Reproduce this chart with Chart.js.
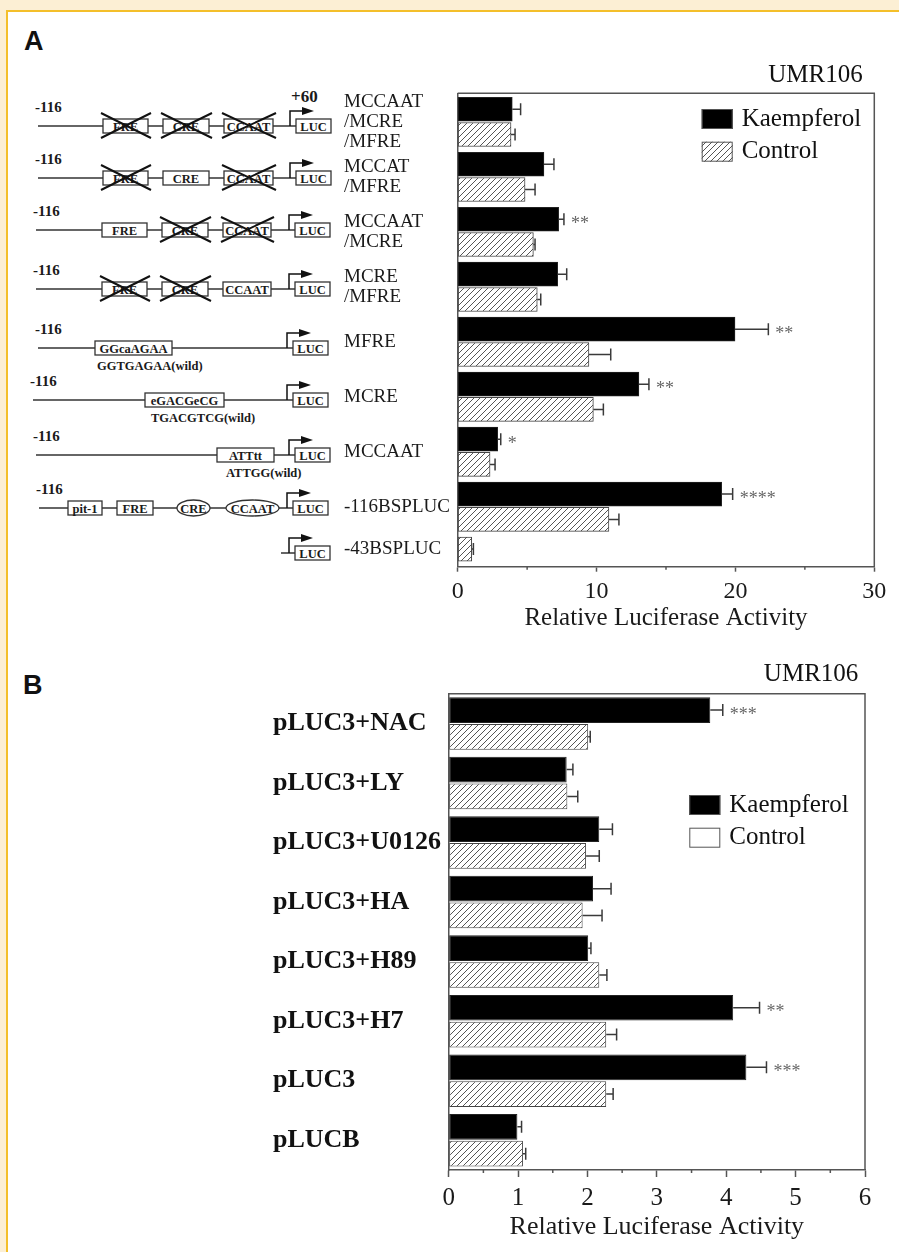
<!DOCTYPE html>
<html>
<head>
<meta charset="utf-8">
<title>Kaempferol luciferase activity</title>
<script src="https://cdn.jsdelivr.net/npm/chart.js@4.4.1/dist/chart.umd.min.js"></script>
<style>
  body { margin: 0; background: #fcefd4; }
  #page { position: relative; width: 899px; height: 1252px; overflow: hidden; }
  #sheet { position: absolute; left: 6px; top: 10px; right: 0; bottom: 0; background: #fff;
           border-top: 2px solid #f4bf2a; border-left: 2px solid #f4bf2a; }
  .letter { position: absolute; font: bold 27px "Liberation Sans", Arial, sans-serif; line-height: 1; color: #111; }
  canvas { position: absolute; }
  #diagram { position: absolute; left: 0; top: 0; }
  #diagram text { font-family: "Liberation Serif", "Times New Roman", serif; font-weight: bold; fill: #1a1a1a; }
  #diagram .pos { font-size: 15px; }
  #diagram .el { font-size: 12.5px; text-anchor: middle; }
  #diagram .wild { font-size: 12.5px; }
</style>
</head>
<body>
<div id="page">
  <div id="sheet"></div>
  <div class="letter" style="left:24px; top:28px;">A</div>
  <div class="letter" style="left:23px; top:672px;">B</div>
  <svg id="diagram" width="899" height="650"></svg>
  <canvas id="chartA" width="559" height="590" style="left:340px; top:58px;"></canvas>
  <canvas id="chartB" width="634" height="602" style="left:265px; top:650px;"></canvas>
</div>
<script>
// ---- panel A data ----
const labelsA = [["MCCAAT", "/MCRE", "/MFRE"], ["MCCAT", "/MFRE"], ["MCCAAT", "/MCRE"], ["MCRE", "/MFRE"],
  "MFRE", "MCRE", "MCCAAT", "-116BSPLUC", "-43BSPLUC"];
const kaempA = [3.93, 6.21, 7.27, 7.20, 19.97, 13.05, 2.88, 19.01, null];
const kaempErrA = [0.60, 0.72, 0.38, 0.65, 2.40, 0.72, 0.22, 0.79, null];
const controlA = [3.84, 4.85, 5.45, 5.73, 9.45, 9.77, 2.33, 10.89, 1.01];
const controlErrA = [0.29, 0.72, 0.12, 0.25, 1.57, 0.72, 0.36, 0.72, 0.12];
const starsA = ["", "", "**", "", "**", "**", "*", "****", ""];

// ---- panel B data ----
const labelsB = ["pLUC3+NAC", "pLUC3+LY", "pLUC3+U0126", "pLUC3+HA", "pLUC3+H89", "pLUC3+H7", "pLUC3", "pLUCB"];
const kaempB = [3.77, 1.70, 2.17, 2.08, 2.01, 4.10, 4.29, 0.99];
const kaempErrB = [0.18, 0.09, 0.19, 0.26, 0.04, 0.38, 0.29, 0.06];
const controlB = [2.01, 1.71, 1.98, 1.93, 2.17, 2.27, 2.27, 1.07];
const controlErrB = [0.03, 0.15, 0.19, 0.28, 0.11, 0.15, 0.10, 0.04];
const starsB = ["***", "", "", "", "", "**", "***", ""];

const serif = "'Liberation Serif', 'Times New Roman', serif";

// promoter constructs drawn next to panel A
const constructs = [
  { y: 126, from: 38, luc: 296, plus60: true, parts: [[103, 148, "FRE", 1], [163, 209, "CRE", 1], [224, 273, "CCAAT", 1]] },
  { y: 178, from: 38, luc: 296, parts: [[103, 148, "FRE", 1], [163, 209, "CRE", 0], [224, 273, "CCAAT", 1]] },
  { y: 230, from: 36, luc: 295, parts: [[102, 147, "FRE", 0], [162, 208, "CRE", 1], [223, 271, "CCAAT", 1]] },
  { y: 289, from: 36, luc: 295, parts: [[102, 147, "FRE", 1], [162, 208, "CRE", 1], [223, 271, "CCAAT", 0]] },
  { y: 348, from: 38, luc: 293, parts: [[95, 172, "GGcaAGAA", 0]], wild: [97, "GGTGAGAA(wild)"] },
  { y: 400, from: 33, luc: 293, parts: [[145, 224, "eGACGeCG", 0]], wild: [151, "TGACGTCG(wild)"] },
  { y: 455, from: 36, luc: 295, parts: [[217, 274, "ATTtt", 0]], wild: [226, "ATTGG(wild)"] },
  { y: 508, from: 39, luc: 293, parts: [[68, 102, "pit-1", 0], [117, 153, "FRE", 0], [177, 210, "CRE", 0, 1], [226, 279, "CCAAT", 0, 1]] },
  { y: 553, from: 281, luc: 295, short: true, parts: [] }
];

const dia = document.getElementById("diagram");
function add(tag, attrs, text) {
  const e = document.createElementNS("http://www.w3.org/2000/svg", tag);
  for (const k in attrs) e.setAttribute(k, attrs[k]);
  if (text) e.textContent = text;
  dia.appendChild(e);
  return e;
}

constructs.forEach((r) => {
  const y = r.y;
  add("line", { x1: r.from, y1: y, x2: r.luc, y2: y, stroke: "#333", "stroke-width": 1.5 });
  if (!r.short) add("text", { x: r.from - 3, y: y - 14, class: "pos" }, "-116");
  r.parts.forEach(([a, b, name, crossed, oval]) => {
    if (oval) {
      add("ellipse", { cx: (a + b) / 2, cy: y, rx: (b - a) / 2, ry: 8, fill: "#fff", stroke: "#333", "stroke-width": 1.3 });
    } else {
      add("rect", { x: a, y: y - 7, width: b - a, height: 14, fill: "#fff", stroke: "#333", "stroke-width": 1.3 });
    }
    add("text", { x: (a + b) / 2, y: y + 4.5, class: "el" }, name);
    if (crossed) {
      add("line", { x1: a - 2, y1: y - 13, x2: b + 3, y2: y + 12, stroke: "#111", "stroke-width": 2 });
      add("line", { x1: a - 2, y1: y + 12, x2: b + 3, y2: y - 13, stroke: "#111", "stroke-width": 2 });
    }
  });
  if (r.wild) add("text", { x: r.wild[0], y: y + 22, class: "wild" }, r.wild[1]);
  add("rect", { x: r.luc, y: y - 7, width: 35, height: 14, fill: "#fff", stroke: "#333", "stroke-width": 1.3 });
  add("text", { x: r.luc + 17.5, y: y + 4.5, class: "el" }, "LUC");
  const ax = r.luc - 6;
  add("polyline", { points: `${ax},${y} ${ax},${y - 15} ${r.luc + 8},${y - 15}`, fill: "none", stroke: "#111", "stroke-width": 1.5 });
  add("polygon", { points: `${r.luc + 6},${y - 19} ${r.luc + 18},${y - 15} ${r.luc + 6},${y - 11}`, fill: "#111" });
  if (r.plus60) add("text", { x: ax + 1, y: y - 24, class: "pos", style: "font-size:17px" }, "+60");
});

// diagonal hatch used for the control bars
function makeHatch() {
  const c = document.createElement("canvas");
  c.width = 6;
  c.height = 6;
  const g = c.getContext("2d");
  g.fillStyle = "#fff";
  g.fillRect(0, 0, 6, 6);
  g.strokeStyle = "#555";
  g.lineWidth = 1;
  g.beginPath();
  g.moveTo(0, 6); g.lineTo(6, 0);
  g.moveTo(-1, 1); g.lineTo(1, -1);
  g.moveTo(5, 7); g.lineTo(7, 5);
  g.stroke();
  return g.createPattern(c, "repeat");
}
const hatch = makeHatch();

// error bars, asterisks, frame, minor ticks, legend, cell line
function extras(opt) {
  return {
    id: "extras",
    afterDatasetsDraw(chart) {
      const ctx = chart.ctx;
      const xs = chart.scales.x;
      ctx.save();
      opt.values.forEach((values, d) => {
        const meta = chart.getDatasetMeta(d);
        values.forEach((v, i) => {
          const err = opt.errors[d][i];
          if (v === null || err === null) return;
          const bar = meta.data[i];
          const xEnd = xs.getPixelForValue(v + err);
          ctx.strokeStyle = "#3a3a3a";
          ctx.lineWidth = 1.5;
          ctx.beginPath();
          ctx.moveTo(bar.x, bar.y);
          ctx.lineTo(xEnd, bar.y);
          ctx.moveTo(xEnd, bar.y - 6);
          ctx.lineTo(xEnd, bar.y + 6);
          ctx.stroke();
          const star = opt.stars[d] && opt.stars[d][i];
          if (star) {
            ctx.fillStyle = "#666";
            ctx.font = "18px " + serif;
            ctx.textAlign = "left";
            ctx.textBaseline = "alphabetic";
            ctx.fillText(star, xEnd + 7, bar.y + 9.5);
          }
        });
      });
      ctx.restore();
    },
    afterDraw(chart) {
      const ctx = chart.ctx;
      const a = chart.chartArea;
      const xs = chart.scales.x;
      ctx.save();
      ctx.strokeStyle = "#555";
      ctx.lineWidth = 1.5;
      ctx.beginPath();
      ctx.moveTo(a.left, a.top);
      ctx.lineTo(a.right, a.top);
      ctx.lineTo(a.right, a.bottom);
      for (let v = opt.minor; v < xs.max; v += opt.minor * 2) {
        const px = xs.getPixelForValue(v);
        ctx.moveTo(px, a.bottom);
        ctx.lineTo(px, a.bottom + 3);
      }
      ctx.stroke();

      ctx.fillStyle = "#111";
      ctx.font = "25px " + serif;
      ctx.textAlign = "right";
      ctx.textBaseline = "middle";
      ctx.fillText(opt.cellLine, a.right - opt.cellDx, a.top - opt.cellDy);

      const lg = opt.legend;
      chart.data.datasets.forEach((ds, k) => {
        const bx = a.right - lg.dx;
        const by = a.top + lg.dy + k * lg.gap;
        ctx.fillStyle = lg.fills[k];
        ctx.fillRect(bx, by, 31, 20);
        ctx.strokeStyle = "#555";
        ctx.lineWidth = 1;
        ctx.strokeRect(bx + 0.5, by + 0.5, 30, 19);
        ctx.fillStyle = "#111";
        ctx.textAlign = "left";
        ctx.fillText(ds.label, bx + 40, by + 10);
      });
      ctx.restore();
    }
  };
}

function xAxis(max, step, tickSize, tickLen, tickPad, titleSize, titlePad) {
  return {
    type: "linear",
    min: 0,
    max: max,
    ticks: { stepSize: step, color: "#1a1a1a", padding: tickPad, font: { family: serif, size: tickSize, lineHeight: 1 } },
    grid: { drawOnChartArea: false, tickLength: tickLen, tickColor: "#555", tickWidth: 1.5 },
    border: { color: "#555", width: 1.5 },
    title: {
      display: true,
      text: "Relative Luciferase Activity",
      color: "#1a1a1a",
      font: { family: serif, size: titleSize, lineHeight: 1 },
      padding: { top: 0, bottom: titlePad }
    },
    afterFit: (s) => { s.height = 70; }
  };
}

// ---- panel A: bars sit in slots of each construct row ----
const seriesA = [kaempA, controlA];
const SLOT = 0.23;
function barPos(i, s) {
  const slot = seriesA.slice(0, s).filter((vals) => vals[i] !== null).length;
  return i + (slot - 0.5) * 2 * SLOT;
}
function rowCentre(i) {
  const ps = [0, 1].filter((s) => seriesA[s][i] !== null).map((s) => barPos(i, s));
  return ps.reduce((t, p) => t + p, 0) / ps.length;
}
function pointsA(s) {
  return seriesA[s].map((v, i) => ({ x: v, y: barPos(i, s) }));
}

new Chart(document.getElementById("chartA"), {
  type: "bar",
  data: {
    datasets: [
      { label: "Kaempferol", data: pointsA(0), backgroundColor: "#000", borderColor: "#222", borderWidth: 1,
        borderSkipped: false, grouped: false, barThickness: 24 },
      { label: "Control", data: pointsA(1), backgroundColor: hatch, borderColor: "#444", borderWidth: 1,
        borderSkipped: false, grouped: false, barThickness: 24 }
    ]
  },
  options: {
    indexAxis: "y",
    responsive: false,
    animation: false,
    devicePixelRatio: 1,
    layout: { padding: { left: 4, right: 24.7, top: 35.3, bottom: 11.3 } },
    plugins: { legend: { display: false }, tooltip: { enabled: false } },
    scales: {
      x: xAxis(30, 10, 24, 5, 8, 25, 5.9),
      y: {
        type: "linear",
        reverse: true,
        offset: false,
        min: -0.52,
        max: 8.09,
        afterBuildTicks: (s) => { s.ticks = labelsA.map((l, i) => ({ value: rowCentre(i) })); },
        ticks: {
          autoSkip: false,
          crossAlign: "far",
          color: "#1a1a1a",
          font: { family: serif, size: 19, lineHeight: 1.05 },
          callback: (v, i) => labelsA[i]
        },
        grid: { display: false, offset: false },
        border: { color: "#555", width: 1.5 },
        afterFit: (s) => { s.width = 113.7; }
      }
    }
  },
  plugins: [extras({
    values: [kaempA, controlA],
    errors: [kaempErrA, controlErrA],
    stars: [starsA, null],
    minor: 5,
    cellLine: "UMR106", cellDx: 11.6, cellDy: 18.3,
    legend: { dx: 172.6, dy: 15.7, gap: 32.7, fills: ["#000", hatch] }
  })]
});

// ---- panel B ----
new Chart(document.getElementById("chartB"), {
  type: "bar",
  data: {
    labels: labelsB,
    datasets: [
      { label: "Kaempferol", data: kaempB, backgroundColor: "#000", borderColor: "#222", borderWidth: 1,
        borderSkipped: false, categoryPercentage: 0.9, barPercentage: 0.96 },
      { label: "Control", data: controlB, backgroundColor: hatch, borderColor: "#444", borderWidth: 1,
        borderSkipped: false, categoryPercentage: 0.9, barPercentage: 0.96 }
    ]
  },
  options: {
    indexAxis: "y",
    responsive: false,
    animation: false,
    devicePixelRatio: 1,
    layout: { padding: { left: 8, right: 34, top: 43.7, bottom: 12 } },
    plugins: { legend: { display: false }, tooltip: { enabled: false } },
    scales: {
      x: xAxis(6, 1, 25, 7, 8.5, 26, 0.3),
      y: {
        ticks: {
          crossAlign: "far",
          color: "#111",
          font: { family: serif, size: 26, weight: "bold", lineHeight: 1 }
        },
        grid: { display: false },
        border: { color: "#555", width: 1.5 },
        afterFit: (s) => { s.width = 175.7; }
      }
    }
  },
  plugins: [extras({
    values: [kaempB, controlB],
    errors: [kaempErrB, controlErrB],
    stars: [starsB, null],
    minor: 0.5,
    cellLine: "UMR106", cellDx: 6.7, cellDy: 19.7,
    legend: { dx: 175.7, dy: 101.3, gap: 32.7, fills: ["#000", "#fff"] }
  })]
});
</script>
</body>
</html>
